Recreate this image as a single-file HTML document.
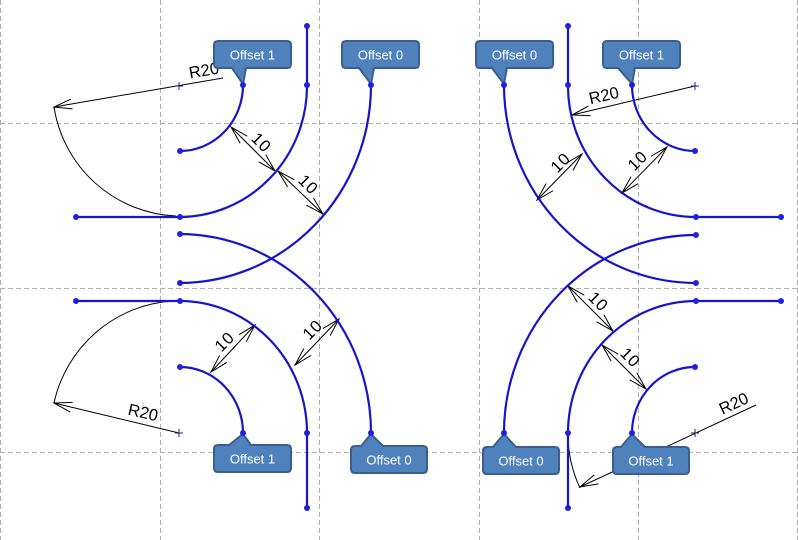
<!DOCTYPE html>
<html>
<head>
<meta charset="utf-8">
<style>
  html, body { margin:0; padding:0; background:#ffffff; }
  svg { display:block; }
  .grid { stroke:#b0b0b0; stroke-width:1; stroke-dasharray:5,3; fill:none; }
  .blue { stroke:#1515cc; stroke-width:2.2; fill:none; stroke-linecap:round; }
  .thin { stroke:#000; stroke-width:1; fill:none; }
  .dot { fill:#2020e0; }
  .cross { stroke:#202070; stroke-width:1; }
  .call { fill:#4f81bd; stroke:#3a5f8c; stroke-width:2; stroke-linejoin:round; }
  .ctext { font-family:"Liberation Sans", sans-serif; font-size:13px; fill:#ffffff; text-anchor:middle; }
  .dim { font-family:"Liberation Sans", sans-serif; font-size:16.5px; fill:#000; text-anchor:middle; dominant-baseline:central; }
</style>
</head>
<body>
<svg width="798" height="540" viewBox="0 0 798 540" xmlns="http://www.w3.org/2000/svg">
  <defs>
    <marker id="ar" markerUnits="userSpaceOnUse" markerWidth="40" markerHeight="40" refX="0" refY="0" orient="auto-start-reverse" viewBox="-20 -10 40 20" style="overflow:visible">
      <path d="M-18,-5 L0,0 L-18,5" fill="none" stroke="#000" stroke-width="1"/>
    </marker>
  </defs>

  <!-- grid -->
  <line class="grid" x1="0.5" y1="0" x2="0.5" y2="540"/>
  <line class="grid" x1="160.5" y1="0" x2="160.5" y2="540"/>
  <line class="grid" x1="319.5" y1="0" x2="319.5" y2="540"/>
  <line class="grid" x1="479.5" y1="0" x2="479.5" y2="540"/>
  <line class="grid" x1="638.5" y1="0" x2="638.5" y2="540"/>
  <line class="grid" x1="797.5" y1="0" x2="797.5" y2="540"/>
  <line class="grid" x1="0" y1="123.5" x2="798" y2="123.5"/>
  <line class="grid" x1="0" y1="288.5" x2="798" y2="288.5"/>
  <line class="grid" x1="0" y1="452.5" x2="798" y2="452.5"/>

  <!-- thin R20 arcs & leaders -->
  <path class="thin" d="M54,107 A129,129 0 0 0 176,216"/>
  <line class="thin" x1="223" y1="78" x2="54" y2="107" marker-end="url(#ar)"/>
  <path class="thin" d="M54,403 A130,130 0 0 1 172,301"/>
  <line class="thin" x1="179" y1="433" x2="54" y2="403" marker-end="url(#ar)"/>
  <line class="thin" x1="695" y1="86" x2="572" y2="115" marker-end="url(#ar)"/>
  <path class="thin" d="M568,433 A127,127 0 0 0 580,488"/>
  <line class="thin" x1="756" y1="405" x2="580" y2="487" marker-end="url(#ar)"/>

  <!-- center crosses -->
  <g class="cross">
    <line x1="175" y1="86" x2="183" y2="86"/><line x1="179" y1="82" x2="179" y2="90"/>
    <line x1="691" y1="86" x2="699" y2="86"/><line x1="695" y1="82" x2="695" y2="90"/>
    <line x1="175" y1="433" x2="183" y2="433"/><line x1="179" y1="429" x2="179" y2="437"/>
    <line x1="691" y1="433" x2="699" y2="433"/><line x1="695" y1="429" x2="695" y2="437"/>
  </g>

  <!-- dimension lines "10" -->
  <g>
    <line class="thin" x1="231" y1="127" x2="275" y2="171" marker-start="url(#ar)" marker-end="url(#ar)"/>
    <line class="thin" x1="278" y1="171" x2="323" y2="214" marker-start="url(#ar)" marker-end="url(#ar)"/>
    <line class="thin" x1="537" y1="200" x2="582" y2="154" marker-start="url(#ar)" marker-end="url(#ar)"/>
    <line class="thin" x1="622" y1="193" x2="667" y2="147" marker-start="url(#ar)" marker-end="url(#ar)"/>
    <line class="thin" x1="211" y1="372" x2="255" y2="325" marker-start="url(#ar)" marker-end="url(#ar)"/>
    <line class="thin" x1="295" y1="365" x2="339" y2="319" marker-start="url(#ar)" marker-end="url(#ar)"/>
    <line class="thin" x1="568" y1="286" x2="613" y2="331" marker-start="url(#ar)" marker-end="url(#ar)"/>
    <line class="thin" x1="602" y1="345" x2="646" y2="389" marker-start="url(#ar)" marker-end="url(#ar)"/>
  </g>
  <g class="dim">
    <text transform="translate(261,143) rotate(45)" letter-spacing="1">10</text>
    <text transform="translate(308,185) rotate(45)" letter-spacing="1">10</text>
    <text transform="translate(561,163) rotate(-45)" letter-spacing="1">10</text>
    <text transform="translate(638,161) rotate(-45)" letter-spacing="1">10</text>
    <text transform="translate(225,342) rotate(-45)" letter-spacing="1">10</text>
    <text transform="translate(313,330) rotate(-45)" letter-spacing="1">10</text>
    <text transform="translate(598,302) rotate(45)" letter-spacing="1">10</text>
    <text transform="translate(630,358) rotate(45)" letter-spacing="1">10</text>
    <text transform="translate(204,71) rotate(-10)">R20</text>
    <text transform="translate(604,96) rotate(-13)">R20</text>
    <text transform="translate(143,413) rotate(13)">R20</text>
    <text transform="translate(734,404) rotate(-25)">R20</text>
  </g>

  <!-- blue curves -->
  <g class="blue">
    <path d="M307,26 L307,85"/>
    <path d="M307,85 A128,131 0 0 1 180,217 L76,217"/>
    <path d="M243,85 A63,66 0 0 1 180,151"/>
    <path d="M371,85 A192,198 0 0 1 180,283"/>
    <path d="M180,234 A192,199 0 0 1 371,433"/>
    <path d="M76,301 L180,301 A127,132 0 0 1 307,433 L307,508"/>
    <path d="M180,367 A63,66 0 0 1 243,433"/>
    <path d="M568,26 L568,85"/>
    <path d="M568,85 A128,131 0 0 0 696,217 L781,217"/>
    <path d="M632,85 A63,66 0 0 0 695,151"/>
    <path d="M504,85 A192,198 0 0 0 696,283"/>
    <path d="M696,235 A192,198 0 0 0 504,433"/>
    <path d="M781,301 L696,301 A128,132 0 0 0 568,433 L568,508"/>
    <path d="M695,367 A63,66 0 0 0 632,433"/>
  </g>

  <!-- callouts top (tail down) -->
  <path class="call" d="M218,41 H287 Q291,41 291,45 V64 Q291,68 287,68 H246 L243,84 L232,68 H218 Q214,68 214,64 V45 Q214,41 218,41 Z"/>
  <text class="ctext" x="252.5" y="59.5">Offset 1</text>
  <path class="call" d="M346,41 H415 Q419,41 419,45 V64 Q419,68 415,68 H374 L371,84 L359,68 H346 Q342,68 342,64 V45 Q342,41 346,41 Z"/>
  <text class="ctext" x="380.5" y="59.5">Offset 0</text>
  <path class="call" d="M480,41 H549 Q553,41 553,45 V64 Q553,68 549,68 H507 L504,84 L492,68 H480 Q476,68 476,64 V45 Q476,41 480,41 Z"/>
  <text class="ctext" x="514.5" y="59.5">Offset 0</text>
  <path class="call" d="M607,41 H676 Q680,41 680,45 V64 Q680,68 676,68 H635 L632,84 L618,68 H607 Q603,68 603,64 V45 Q603,41 607,41 Z"/>
  <text class="ctext" x="641.5" y="59.5">Offset 1</text>

  <!-- callouts bottom (tail up) -->
  <path class="call" d="M218,445 H229 L243,434 L251,445 H287 Q291,445 291,449 V468 Q291,472 287,472 H218 Q214,472 214,468 V449 Q214,445 218,445 Z"/>
  <text class="ctext" x="252.5" y="463.5">Offset 1</text>
  <path class="call" d="M355,446 H361 L371,434 L383,446 H423 Q427,446 427,450 V469 Q427,473 423,473 H355 Q351,473 351,469 V450 Q351,446 355,446 Z"/>
  <text class="ctext" x="389" y="464.5">Offset 0</text>
  <path class="call" d="M487,447 H493 L504,434 L516,447 H555 Q559,447 559,451 V470 Q559,474 555,474 H487 Q483,474 483,470 V451 Q483,447 487,447 Z"/>
  <text class="ctext" x="521" y="465.5">Offset 0</text>
  <path class="call" d="M617,447 H621 L632,434 L645,447 H685 Q689,447 689,451 V470 Q689,474 685,474 H617 Q613,474 613,470 V451 Q613,447 617,447 Z"/>
  <text class="ctext" x="651" y="465.5">Offset 1</text>

  <!-- dots -->
  <g class="dot">
    <circle cx="307" cy="26" r="3"/><circle cx="307" cy="85" r="3"/><circle cx="243" cy="85" r="3"/>
    <circle cx="371" cy="85" r="3"/><circle cx="180" cy="151" r="3"/><circle cx="180" cy="217" r="3"/>
    <circle cx="76" cy="217" r="3"/><circle cx="180" cy="234" r="3"/><circle cx="180" cy="283" r="3"/>
    <circle cx="76" cy="301" r="3"/><circle cx="180" cy="301" r="3"/><circle cx="180" cy="367" r="3"/>
    <circle cx="243" cy="433" r="3"/><circle cx="307" cy="433" r="3"/><circle cx="307" cy="508" r="3"/>
    <circle cx="371" cy="433" r="3"/>
    <circle cx="568" cy="26" r="3"/><circle cx="568" cy="85" r="3"/><circle cx="504" cy="85" r="3"/>
    <circle cx="632" cy="85" r="3"/><circle cx="695" cy="151" r="3"/><circle cx="696" cy="217" r="3"/>
    <circle cx="781" cy="217" r="3"/><circle cx="696" cy="235" r="3"/><circle cx="696" cy="283" r="3"/>
    <circle cx="696" cy="301" r="3"/><circle cx="781" cy="301" r="3"/><circle cx="695" cy="367" r="3"/>
    <circle cx="632" cy="433" r="3"/><circle cx="568" cy="433" r="3"/><circle cx="568" cy="508" r="3"/>
    <circle cx="504" cy="433" r="3"/>
  </g>
</svg>
</body>
</html>
